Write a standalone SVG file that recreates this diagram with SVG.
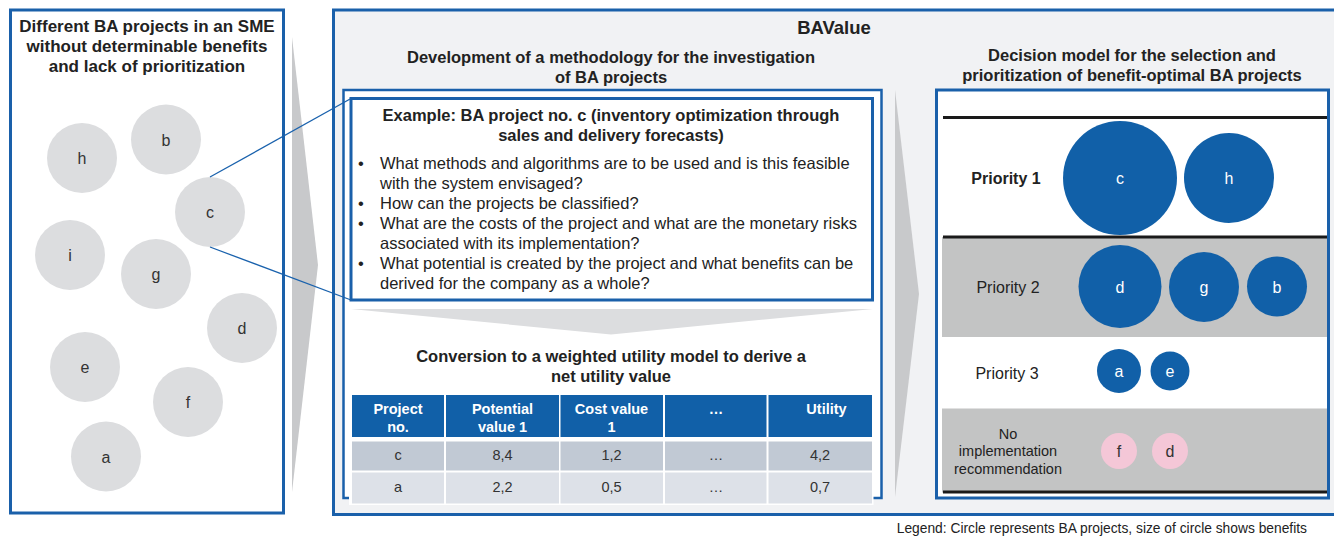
<svg xmlns="http://www.w3.org/2000/svg" width="1334" height="536" viewBox="0 0 1334 536">
  <defs>
    <style>
      .frame { fill: #ffffff; stroke: #1a60aa; stroke-width: 3; }
      .frame-thin { fill: #ffffff; stroke: #1a60aa; stroke-width: 2.5; }
      .ttl { font-family: "Liberation Sans", Arial, sans-serif; font-weight: bold; font-size: 16.5px; fill: #222222; text-anchor: middle; }
      .body { font-family: "Liberation Sans", Arial, sans-serif; font-size: 16.5px; fill: #222222; }
      .proj { fill: #dcdddf; }
      .proj-lbl { font-family: "Liberation Sans", Arial, sans-serif; font-size: 16px; fill: #333333; text-anchor: middle; }
      .sel { fill: #1160a8; }
      .sel-lbl { font-family: "Liberation Sans", Arial, sans-serif; font-size: 16px; fill: #ffffff; text-anchor: middle; }
      .rej { fill: #f4c7d7; }
      .rej-lbl { font-family: "Liberation Sans", Arial, sans-serif; font-size: 16px; fill: #333333; text-anchor: middle; }
      .prio { font-family: "Liberation Sans", Arial, sans-serif; font-size: 16px; fill: #222222; text-anchor: middle; }
      .th { fill: #1160a8; }
      .th-txt { font-family: "Liberation Sans", Arial, sans-serif; font-weight: bold; font-size: 14.5px; fill: #ffffff; text-anchor: middle; }
      .td-txt { font-family: "Liberation Sans", Arial, sans-serif; font-size: 14.5px; fill: #333333; text-anchor: middle; }
      .rowA { fill: #c1c9d4; }
      .rowB { fill: #dde1e8; }
      .band { fill: #c3c4c4; }
      .rule { stroke: #1a1a1a; stroke-width: 3; }
      .flow { fill: #c8c9cb; }
      .link { stroke: #1a62ad; stroke-width: 1.3; fill: none; }
    </style>
  </defs>

  <rect width="1334" height="536" fill="#ffffff"/>

  <!-- Left panel: unprioritised projects -->
  <g id="pool">
    <rect class="frame" x="10.5" y="10" width="273" height="503"/>
    <text class="ttl" font-size="17" x="147" y="31.5" style="font-size:17px">Different BA projects in an SME</text>
    <text class="ttl" x="147" y="51.5" style="font-size:17px">without determinable benefits</text>
    <text class="ttl" x="147" y="71.5" style="font-size:17px">and lack of prioritization</text>
  </g>

  <g id="proj-h"><circle class="proj" cx="82" cy="158" r="35"/><text class="proj-lbl" x="82" y="164">h</text></g>
  <g id="proj-b"><circle class="proj" cx="166" cy="139.5" r="35"/><text class="proj-lbl" x="166" y="145.5">b</text></g>
  <g id="proj-c"><circle class="proj" cx="210" cy="212" r="35"/><text class="proj-lbl" x="210" y="218">c</text></g>
  <g id="proj-i"><circle class="proj" cx="70" cy="255" r="35"/><text class="proj-lbl" x="70" y="261">i</text></g>
  <g id="proj-g"><circle class="proj" cx="156" cy="274" r="35"/><text class="proj-lbl" x="156" y="280">g</text></g>
  <g id="proj-d"><circle class="proj" cx="242" cy="328" r="35"/><text class="proj-lbl" x="242" y="334">d</text></g>
  <g id="proj-e"><circle class="proj" cx="85" cy="367" r="35"/><text class="proj-lbl" x="85" y="373">e</text></g>
  <g id="proj-f"><circle class="proj" cx="188" cy="402" r="35"/><text class="proj-lbl" x="188" y="408">f</text></g>
  <g id="proj-a"><circle class="proj" cx="106" cy="456.5" r="35"/><text class="proj-lbl" x="106" y="462.5">a</text></g>

  <!-- Process arrow from pool to BAValue -->
  <g id="step-1">
    <polygon class="flow" points="292,37 318,265 292,492"/>
  </g>

  <!-- BAValue container -->
  <g id="bavalue">
    <rect x="333.5" y="10" width="1010" height="504.5" fill="#f1f2f4" stroke="#1a60aa" stroke-width="3"/>
    <text class="ttl" x="834" y="34" style="font-size:18.5px">BAValue</text>
  </g>

  <!-- Methodology panel -->
  <g id="methodology">
    <text class="ttl" x="611" y="62.5">Development of a methodology for the investigation</text>
    <text class="ttl" x="611" y="82.5">of BA projects</text>
    <rect class="frame-thin" x="343.5" y="90" width="538" height="408"/>
  </g>

  <g id="example">
    <rect class="frame" x="351" y="98.5" width="521.5" height="201.5"/>
    <text class="ttl" x="611" y="121">Example: BA project no. c (inventory optimization through</text>
    <text class="ttl" x="611" y="141">sales and delivery forecasts)</text>
    <g class="body">
      <text x="358" y="168.5">•</text>
      <text x="380" y="168.5">What methods and algorithms are to be used and is this feasible</text>
      <text x="380" y="188.5">with the system envisaged?</text>
      <text x="358" y="208.5">•</text>
      <text x="380" y="208.5">How can the projects be classified?</text>
      <text x="358" y="228.5">•</text>
      <text x="380" y="228.5">What are the costs of the project and what are the monetary risks</text>
      <text x="380" y="248.5">associated with its implementation?</text>
      <text x="358" y="268.5">•</text>
      <text x="380" y="268.5">What potential is created by the project and what benefits can be</text>
      <text x="380" y="288.5">derived for the company as a whole?</text>
    </g>
  </g>

  <g id="step-2">
    <polygon points="351,309 873,309 611,334.5" fill="#dcdddf"/>
  </g>

  <!-- Weighted utility table -->
  <g id="utility-model">
    <text class="ttl" x="611" y="361.5">Conversion to a weighted utility model to derive a</text>
    <text class="ttl" x="611" y="381.5">net utility value</text>
    <rect x="349" y="393" width="524.5" height="112" fill="#ffffff"/>
    <rect class="th" x="352" y="395" width="92" height="42"/>
    <rect class="th" x="446" y="395" width="113" height="42"/>
    <rect class="th" x="560.5" y="395" width="102.5" height="42"/>
    <rect class="th" x="665" y="395" width="101.5" height="42"/>
    <rect class="th" x="768.5" y="395" width="103.5" height="42"/>
    <text class="th-txt" x="398" y="414">Project</text>
    <text class="th-txt" x="398" y="431.5">no.</text>
    <text class="th-txt" x="502.5" y="414">Potential</text>
    <text class="th-txt" x="502.5" y="431.5">value 1</text>
    <text class="th-txt" x="611.5" y="414">Cost value</text>
    <text class="th-txt" x="611.5" y="431.5">1</text>
    <text class="th-txt" x="716" y="414">…</text>
    <text class="th-txt" x="826.5" y="414">Utility</text>

    <rect class="rowA" x="352" y="441.5" width="92" height="29"/>
    <rect class="rowA" x="446" y="441.5" width="113" height="29"/>
    <rect class="rowA" x="560.5" y="441.5" width="102.5" height="29"/>
    <rect class="rowA" x="665" y="441.5" width="101.5" height="29"/>
    <rect class="rowA" x="768.5" y="441.5" width="103.5" height="29"/>
    <text class="td-txt" x="398" y="459.5">c</text>
    <text class="td-txt" x="502.5" y="459.5">8,4</text>
    <text class="td-txt" x="611.5" y="459.5">1,2</text>
    <text class="td-txt" x="716" y="459.5">…</text>
    <text class="td-txt" x="820" y="459.5">4,2</text>

    <rect class="rowB" x="352" y="472.5" width="92" height="31"/>
    <rect class="rowB" x="446" y="472.5" width="113" height="31"/>
    <rect class="rowB" x="560.5" y="472.5" width="102.5" height="31"/>
    <rect class="rowB" x="665" y="472.5" width="101.5" height="31"/>
    <rect class="rowB" x="768.5" y="472.5" width="103.5" height="31"/>
    <text class="td-txt" x="398" y="491.5">a</text>
    <text class="td-txt" x="502.5" y="491.5">2,2</text>
    <text class="td-txt" x="611.5" y="491.5">0,5</text>
    <text class="td-txt" x="716" y="491.5">…</text>
    <text class="td-txt" x="820" y="491.5">0,7</text>
  </g>

  <!-- Process arrow from methodology to decision model -->
  <g id="step-3">
    <polygon class="flow" points="895,90 919,294 895,497"/>
  </g>

  <!-- Decision model panel -->
  <g id="decision">
    <text class="ttl" x="1132" y="60.5">Decision model for the selection and</text>
    <text class="ttl" x="1132" y="80.5">prioritization of benefit-optimal BA projects</text>
    <rect class="frame" x="936.5" y="90" width="392" height="408"/>
    <rect class="band" x="942" y="237" width="385" height="100"/>
    <rect class="band" x="942" y="408.5" width="385" height="84"/>
    <line class="rule" x1="943" y1="117.5" x2="1327" y2="117.5"/>
    <line class="rule" x1="943" y1="237" x2="1327" y2="237"/>
    <line class="rule" x1="943" y1="492" x2="1327" y2="492"/>
  </g>

  <g id="priority-1">
    <text class="prio" x="1006" y="183.5" font-weight="bold">Priority 1</text>
    <circle class="sel" cx="1120" cy="178" r="57"/><text class="sel-lbl" x="1120" y="184">c</text>
    <circle class="sel" cx="1229" cy="178" r="45"/><text class="sel-lbl" x="1229" y="184">h</text>
  </g>

  <g id="priority-2">
    <text class="prio" x="1008" y="293">Priority 2</text>
    <circle class="sel" cx="1120" cy="286.5" r="41.5"/><text class="sel-lbl" x="1120" y="292.5">d</text>
    <circle class="sel" cx="1204" cy="287" r="35"/><text class="sel-lbl" x="1204" y="293">g</text>
    <circle class="sel" cx="1277" cy="286.5" r="30"/><text class="sel-lbl" x="1277" y="292.5">b</text>
  </g>

  <g id="priority-3">
    <text class="prio" x="1007" y="378.5">Priority 3</text>
    <circle class="sel" cx="1119" cy="371" r="22"/><text class="sel-lbl" x="1119" y="377">a</text>
    <circle class="sel" cx="1170" cy="371" r="19.5"/><text class="sel-lbl" x="1170" y="377">e</text>
  </g>

  <g id="no-recommendation">
    <text class="prio" x="1008" y="438.5" style="font-size:14.5px">No</text>
    <text class="prio" x="1008" y="456" style="font-size:14.5px">implementation</text>
    <text class="prio" x="1008" y="473.5" style="font-size:14.5px">recommendation</text>
    <circle class="rej" cx="1119" cy="451" r="18"/><text class="rej-lbl" x="1119" y="457">f</text>
    <circle class="rej" cx="1170" cy="451" r="18"/><text class="rej-lbl" x="1170" y="457">d</text>
  </g>

  <!-- Zoom lines from project c to its detailed example -->
  <g id="connectors">
    <line class="link" x1="210" y1="177" x2="351" y2="98.5"/>
    <line class="link" x1="210" y1="247" x2="351" y2="300"/>
  </g>

  <g id="legend">
    <text x="1307" y="533" font-family="Liberation Sans, Arial, sans-serif" font-size="13.8" fill="#222222" text-anchor="end">Legend: Circle represents BA projects, size of circle shows benefits</text>
  </g>
</svg>
